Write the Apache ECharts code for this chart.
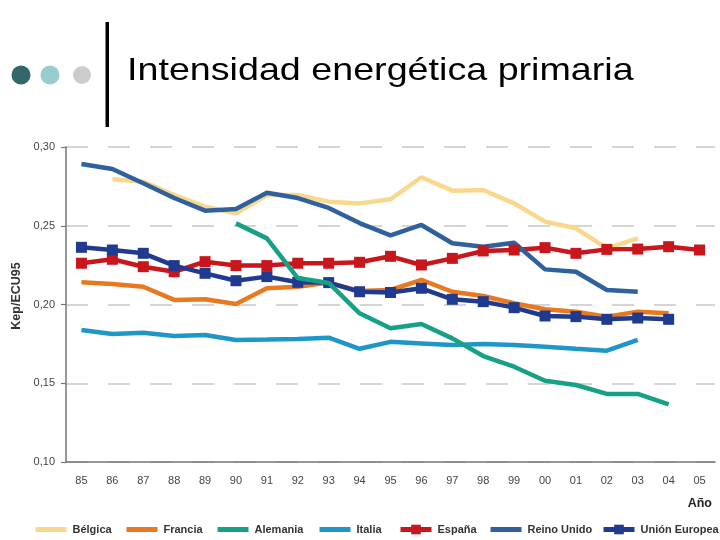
<!DOCTYPE html>
<html>
<head>
<meta charset="utf-8">
<script src="https://cdn.jsdelivr.net/npm/echarts@6/dist/echarts.min.js"></script>
<style>html,body{margin:0;padding:0;background:#fff}#c{width:720px;height:540px}</style>
</head>
<body>
<div id="c"></div>
<script>
const years = ['85','86','87','88','89','90','91','92','93','94','95','96','97','98','99','00','01','02','03','04','05'];
const yTicks = [0.10, 0.15, 0.20, 0.25, 0.30];
const belgica = [null,0.2795,0.2780,0.2695,0.2621,0.2579,0.2695,0.2695,0.2653,0.2642,0.2668,0.2808,0.2723,0.2727,0.2642,0.2526,0.2484,0.2357,0.2420,null,null];
const francia = [0.2141,0.2130,0.2113,0.2029,0.2033,0.2003,0.2103,0.2113,0.2139,0.2085,0.2092,0.2156,0.2081,0.2054,0.2008,0.1970,0.1954,0.1923,0.1954,0.1944,null];
const alemania = [null,null,null,null,null,0.2515,0.2420,0.2168,0.2137,0.1944,0.1849,0.1876,0.1785,0.1673,0.1605,0.1516,0.1489,0.1432,0.1432,0.1366,null];
const italia = [0.1838,0.1813,0.1821,0.1800,0.1806,0.1775,0.1777,0.1781,0.1789,0.1719,0.1763,0.1753,0.1743,0.1749,0.1743,0.1732,0.1719,0.1707,0.1775,null,null];
const espana = [0.2262,0.2287,0.2240,0.2208,0.2272,0.2247,0.2247,0.2262,0.2262,0.2268,0.2306,0.2251,0.2293,0.2340,0.2346,0.2361,0.2325,0.2350,0.2352,0.2367,0.2346];
const reinoUnido = [0.2892,0.2860,0.2770,0.2676,0.2596,0.2606,0.2710,0.2676,0.2613,0.2517,0.2439,0.2505,0.2389,0.2367,0.2392,0.2223,0.2208,0.2092,0.2081,null,null];
const unionEuropea = [0.2363,0.2346,0.2325,0.2247,0.2198,0.2151,0.2177,0.2141,0.2139,0.2081,0.2076,0.2103,0.2033,0.2018,0.1980,0.1927,0.1923,0.1906,0.1914,0.1906,null];

const names = ['Bélgica','Francia','Alemania','Italia','España','Reino Unido','Unión Europea'];
const colors = ['#f9d88c','#e8791f','#16a085','#1e96c8','#c8161d','#30619f','#1f3a8f'];
const hasMarker = [false,false,false,false,true,false,true];
const legendLeft = [33,124,215,317,398,488,601];

const FONT = '"Liberation Sans",Arial,sans-serif';

function lineSeries(i, data, z) {
  return {
    name: names[i], type: 'line', data: data, z: z,
    symbol: hasMarker[i] ? 'rect' : 'none', symbolSize: 11, showSymbol: hasMarker[i],
    lineStyle: { color: colors[i], width: 4.5 },
    itemStyle: { color: colors[i] },
    emphasis: { disabled: true }
  };
}

const legends = names.map(function (n, i) {
  return {
    left: legendLeft[i], top: 524, itemWidth: 31, itemHeight: 12, padding: 0,
    selectedMode: false,
    lineStyle: { width: 5 },
    textStyle: { fontFamily: FONT, fontSize: 11, fontWeight: 'bold', color: '#333', padding: [0,0,0,1] },
    data: [hasMarker[i] ? { name: n } : { name: n, itemStyle: { opacity: 0 } }]
  };
});

const chart = echarts.init(document.getElementById('c'), null, { renderer: 'canvas' });
chart.setOption({
  animation: false,
  backgroundColor: '#fff',
  graphic: [
    { type: 'circle', shape: { cx: 21, cy: 75, r: 9.5 }, style: { fill: '#336666' } },
    { type: 'circle', shape: { cx: 50, cy: 75, r: 9.5 }, style: { fill: '#99cccc' } },
    { type: 'circle', shape: { cx: 82, cy: 75, r: 9 }, style: { fill: '#cccccc' } },
    { type: 'rect', shape: { x: 105.5, y: 22, width: 3.5, height: 105 }, style: { fill: '#000' } },
    { type: 'text', x: 127, y: 71, scaleX: 1.177, scaleY: 1,
      style: { text: 'Intensidad energética primaria', fontFamily: FONT, fontSize: 32, fill: '#000',
               align: 'left', verticalAlign: 'middle' } },
    { type: 'text', right: 8, top: 497, style: { text: 'Año', fontFamily: FONT, fontSize: 12.5, fontWeight: 'bold', fill: '#222' } }
  ],
  grid: { left: 66, right: 5, top: 147, bottom: 78, containLabel: false },
  legend: legends,
  xAxis: {
    type: 'category', data: years, boundaryGap: true,
    axisLine: { lineStyle: { color: '#777', width: 1.5 } },
    axisTick: { alignWithLabel: true, length: 6, lineStyle: { color: '#777', width: 1.2 } },
    axisLabel: { margin: 13, fontFamily: FONT, fontSize: 11, color: '#444' },
    splitLine: { show: false }
  },
  yAxis: {
    type: 'value', min: yTicks[0], max: yTicks[yTicks.length-1], interval: 0.05,
    name: 'Kep/ECU95', nameLocation: 'middle', nameRotate: 90, nameGap: 39,
    nameTextStyle: { fontFamily: FONT, fontSize: 12.5, fontWeight: 'bold', color: '#333', padding: [0,0,0,17] },
    axisLine: { show: true, lineStyle: { color: '#777', width: 1.5 } },
    axisTick: { show: true, length: 5, lineStyle: { color: '#777', width: 1.2 } },
    axisLabel: { margin: 11, fontFamily: FONT, fontSize: 11, color: '#444',
      formatter: function (v) { return v.toFixed(2).replace('.', ','); } },
    splitLine: { show: true, lineStyle: { color: '#c8c8c8', width: 1.5, type: [22, 20] } }
  },
  series: [
    lineSeries(0, belgica, 2),
    lineSeries(1, francia, 2),
    lineSeries(2, alemania, 4),
    lineSeries(3, italia, 3),
    lineSeries(4, espana, 3),
    lineSeries(5, reinoUnido, 3),
    lineSeries(6, unionEuropea, 3)
  ]
});
</script>
</body>
</html>
